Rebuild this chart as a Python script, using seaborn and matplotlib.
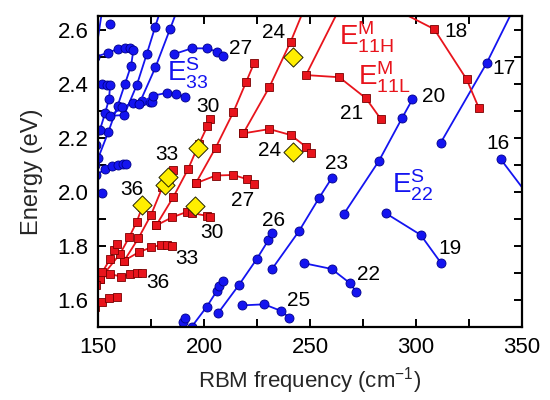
import matplotlib
matplotlib.use("Agg")
import matplotlib.pyplot as plt
import seaborn as sns
from matplotlib.ticker import MultipleLocator

sns.set_theme(style="ticks")
plt.rcParams['font.family'] = ['Liberation Sans', 'DejaVu Sans']
plt.rcParams['mathtext.fontset'] = 'custom'
plt.rcParams['mathtext.rm'] = 'Liberation Sans'
plt.rcParams['mathtext.it'] = 'Liberation Sans:italic'

BLUE = '#1414f0'
RED = '#e8141c'
YEL = '#ffee00'

# ---------------- semiconducting (blue circles) ----------------
b_edge_x = [149.4, 152.1]; b_edge_y = [2.54, 2.681]
b_dot_x = [155.7]; b_dot_y = [2.622]
b_c1_x = [148.5, 154.6, 159.3, 162.7, 165.1, 166.7, 165.6, 162.7, 159.3, 154.9, 150.1, 148.5]
b_c1_y = [2.50, 2.515, 2.530, 2.532, 2.532, 2.526, 2.468, 2.400, 2.320, 2.223, 2.126, 2.10]
b_c2_x = [148.8, 151.7, 154.1, 155.7, 155.2, 153.3, 150.9, 149.1]
b_c2_y = [2.40, 2.400, 2.397, 2.397, 2.344, 2.291, 2.230, 2.174]
b33_x = [179.5, 176.9, 173.0, 168.3, 162.3, 155.7, 161.5, 166.7, 170.9, 174.5, 175.6]
b33_y = [2.674, 2.610, 2.511, 2.396, 2.285, 2.282, 2.314, 2.329, 2.336, 2.333, 2.332]
b30_x = [187.7, 184.0, 177.1, 169.4, 176.1, 182.4, 186.8, 191.0]
b30_y = [2.681, 2.604, 2.462, 2.326, 2.357, 2.367, 2.363, 2.353]
b27_x = [186.0, 194.2, 201.3, 206.0, 209.1]
b27_y = [2.511, 2.532, 2.532, 2.520, 2.504]
b36_x = [149.0, 153.3, 156.5, 159.6, 161.9, 163.1]
b36_y = [2.063, 2.084, 2.096, 2.100, 2.103, 2.103]
b_iso_x = [151.7]; b_iso_y = [1.997]

b29_x = [186.3, 190.0, 191.0]; b29_y = [1.470, 1.520, 1.533]
b28_x = [194.2, 201.3, 206.0, 207.3, 209.1]; b28_y = [1.501, 1.575, 1.633, 1.652, 1.670]
b26_x = [206.6, 216.5, 224.9, 230.4, 232.0]; b26_y = [1.551, 1.656, 1.752, 1.822, 1.847]
b25_x = [217.8, 228.4, 236.2, 240.2]; b25_y = [1.580, 1.584, 1.560, 1.535]
b23_x = [232.1, 244.8, 254.2, 260.2]; b23_y = [1.715, 1.855, 1.977, 2.051]
b22_x = [247.3, 260.2, 268.9, 271.7]; b22_y = [1.736, 1.715, 1.662, 1.631]
b20_x = [266.0, 282.5, 293.5, 298.3]; b20_y = [1.919, 2.115, 2.275, 2.343]
b19_x = [285.8, 302.2, 311.7]; b19_y = [1.921, 1.841, 1.738]
b17_x = [311.7, 333.3, 346.2]; b17_y = [2.183, 2.477, 2.681]
b16_x = [340.0, 353.8]; b16_y = [2.121, 1.978]

# ---------------- metallic (red squares) ----------------
r18_x = [289.2, 308.6, 323.9, 329.7]; r18_y = [2.681, 2.603, 2.417, 2.310]
r21_x = [264.0, 248.1, 263.8, 276.4, 283.5]; r21_y = [2.681, 2.433, 2.425, 2.347, 2.269]
r24h_x = [247.4, 240.9, 230.8, 218.5]; r24h_y = [2.681, 2.557, 2.388, 2.217]
r24l_x = [218.5, 230.8, 240.9, 248.0, 250.5]; r24l_y = [2.217, 2.233, 2.211, 2.168, 2.146]
r27h_x = [223.6, 219.8, 213.8, 205.5, 196.1]; r27h_y = [2.477, 2.406, 2.295, 2.164, 2.032]
r27l_x = [196.1, 205.5, 213.8, 220.1, 223.6]; r27l_y = [2.032, 2.061, 2.063, 2.048, 2.030]
r30h_x = [202.8, 201.6, 197.6, 192.5, 185.5, 177.4]; r30h_y = [2.270, 2.244, 2.177, 2.085, 1.981, 1.876]
r30l_x = [177.4, 184.9, 191.8, 194.3, 201.2, 202.8]; r30l_y = [1.876, 1.906, 1.926, 1.922, 1.912, 1.907]
r33h_x = [185.5, 183.5, 180.4, 175.0, 169.0, 162.4]; r33h_y = [2.083, 2.052, 2.018, 1.915, 1.828, 1.746]
r33l_x = [162.4, 169.2, 175.1, 179.7, 182.5, 184.9]; r33l_y = [1.746, 1.777, 1.795, 1.804, 1.804, 1.801]
r36h_x = [170.8, 168.3, 164.8, 160.4, 150.9]; r36h_y = [1.944, 1.890, 1.834, 1.771, 1.678]
r36l_x = [150.9, 155.7, 160.8, 165.1, 168.6, 170.8]; r36l_y = [1.678, 1.696, 1.687, 1.695, 1.700, 1.700]
r39h_x = [149.1, 152.1, 155.7, 157.7, 158.8]; r39h_y = [1.656, 1.704, 1.752, 1.787, 1.807]
r39l_x = [148.6, 151.7, 155.2, 158.8]; r39l_y = [1.574, 1.594, 1.609, 1.612]

# experimental points (yellow diamonds)
exp_x = [242.1, 242.1, 197.3, 195.8, 181.6, 183.2, 170.6]
exp_y = [2.499, 2.149, 2.162, 1.948, 2.026, 2.054, 1.952]

# family labels
lab_txt = ['27', '30', '33', '36', '27', '30', '33', '36', '24', '24', '21', '18',
           '20', '17', '16', '23', '26', '25', '22', '19']
lab_x = [217.2, 202.0, 182.4, 165.9, 218.0, 203.6, 192.1, 178.4, 232.7, 231.1, 269.8, 318.7,
         308.2, 341.5, 338.8, 262.6, 233.0, 244.8, 277.5, 316.0]
lab_y = [2.530, 2.318, 2.137, 2.011, 1.970, 1.850, 1.754, 1.664, 2.589, 2.153, 2.292, 2.594,
         2.353, 2.458, 2.180, 2.106, 1.896, 1.599, 1.693, 1.791]

fig = plt.figure(figsize=(5.5, 4), dpi=100)
ax = fig.add_axes([0.1782, 0.1825, 0.7709, 0.7763])


def draw(x, y, kind, markers=True):
    if kind == 'b':
        kw = dict(color=BLUE, marker='o' if markers else None, markersize=6.5,
                  markerfacecolor=BLUE, markeredgecolor='#00008a', markeredgewidth=0.6)
    else:
        kw = dict(color=RED, marker='s' if markers else None, markersize=5.2,
                  markerfacecolor=RED, markeredgecolor='#7a0000', markeredgewidth=0.6)
    sns.lineplot(x=x, y=y, sort=False, estimator=None, lw=1.3, ax=ax, legend=False, **kw)


draw(b_edge_x, b_edge_y, 'b', markers=False)
draw(b_dot_x, b_dot_y, 'b')
for xs, ys in [(b_c1_x, b_c1_y), (b_c2_x, b_c2_y), (b33_x, b33_y), (b30_x, b30_y),
               (b27_x, b27_y), (b36_x, b36_y), (b_iso_x, b_iso_y), (b29_x, b29_y),
               (b28_x, b28_y), (b26_x, b26_y), (b25_x, b25_y), (b23_x, b23_y),
               (b22_x, b22_y), (b20_x, b20_y), (b19_x, b19_y), (b17_x, b17_y), (b16_x, b16_y)]:
    draw(xs, ys, 'b')

for xs, ys in [(r18_x, r18_y), (r21_x, r21_y), (r24h_x, r24h_y), (r24l_x, r24l_y),
               (r27h_x, r27h_y), (r27l_x, r27l_y), (r30h_x, r30h_y), (r30l_x, r30l_y),
               (r33h_x, r33h_y), (r33l_x, r33l_y), (r36h_x, r36h_y), (r36l_x, r36l_y),
               (r39h_x, r39h_y), (r39l_x, r39l_y)]:
    draw(xs, ys, 'r')

sns.scatterplot(x=exp_x, y=exp_y, marker='D', s=95, color=YEL, edgecolor='#222200',
                linewidth=0.7, ax=ax, legend=False, zorder=5)

for t, x, y in zip(lab_txt, lab_x, lab_y):
    ax.text(x, y, t, fontsize=15, ha='center', va='center', color='black', zorder=6)

ax.text(263.8, 2.544, r'$\mathrm{E}^{\mathrm{M}}_{\mathrm{11H}}$', fontsize=20, color=RED,
        ha='left', va='baseline')
ax.text(272.6, 2.396, r'$\mathrm{E}^{\mathrm{M}}_{\mathrm{11L}}$', fontsize=20, color=RED,
        ha='left', va='baseline')
ax.text(182.4, 2.4085, r'$\mathrm{E}^{\mathrm{S}}_{\mathrm{33}}$', fontsize=20, color=BLUE,
        ha='left', va='baseline')
ax.text(288.5, 1.995, r'$\mathrm{E}^{\mathrm{S}}_{\mathrm{22}}$', fontsize=20, color=BLUE,
        ha='left', va='baseline')

ax.set_xlim(150, 350)
ax.set_ylim(1.5, 2.65)
ax.xaxis.set_major_locator(MultipleLocator(50))
ax.xaxis.set_minor_locator(MultipleLocator(25))
ax.yaxis.set_minor_locator(MultipleLocator(0.1))
ax.set_yticks([1.6, 1.8, 2.0, 2.2, 2.4, 2.6])
ax.set_yticklabels(['1.6', '1.8', '2.0', '2.2', '2.4', '2.6'])
ax.tick_params(which='both', direction='in', top=True, right=True, width=1.4,
               labelsize=16, colors='black', pad=7)
ax.tick_params(which='major', length=6)
ax.tick_params(which='minor', length=6)
for s in ax.spines.values():
    s.set_linewidth(1.6)
    s.set_color('black')
ax.set_xlabel(r'RBM frequency (cm$^{\mathrm{-1}}$)', fontsize=16, labelpad=5)
ax.set_ylabel('Energy (eV)', fontsize=17, labelpad=10)

fig.savefig('out.png', dpi=100, facecolor='white')
